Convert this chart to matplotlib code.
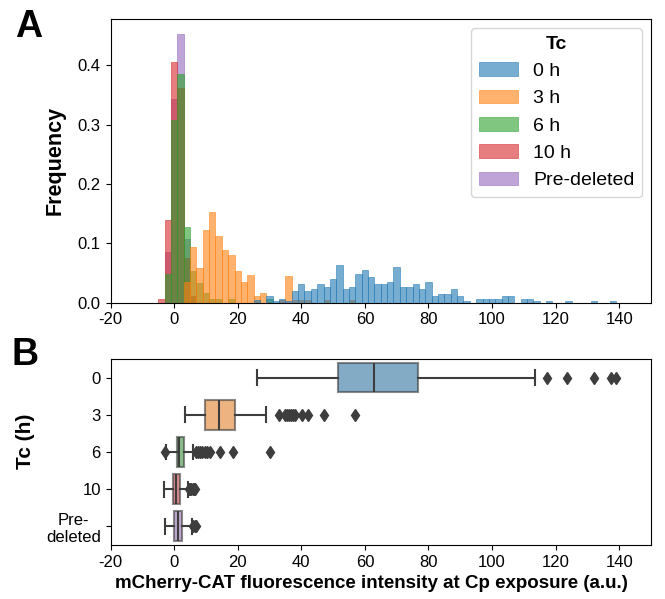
"""Panel A: layered histograms per Tc time; panel B: box plots of the same groups."""
import numpy as np
import matplotlib
matplotlib.use('Agg')
import matplotlib.pyplot as plt

plt.rcParams['font.family'] = ['Liberation Sans', 'DejaVu Sans']
plt.rcParams['font.size'] = 12
plt.rcParams['axes.unicode_minus'] = False

# Groups and colours
groups = ['0 h', '3 h', '6 h', '10 h', 'Pre-deleted']
box_labels = ['0', '3', '6', '10', 'Pre-\ndeleted']
hist_colors = ['#1f77b4', '#ff7f0e', '#2ca02c', '#d62728', '#9467bd']
box_colors = ['#3274a1', '#e1812c', '#3a923a', '#c03d3e', '#9372b2']

# Histogram: common bins of width 2, frequencies read per bin from the figure
bin_width = 2
# first bin left edge of each group, then heights of consecutive bins
start_0h = 25
freq_0h = [0.004, 0.0, 0.012, 0.0034, 0.006, 0.0034, 0.020, 0.032, 0.020, 0.0236,
           0.032, 0.027, 0.040, 0.064, 0.0236, 0.027, 0.049, 0.0555, 0.0438, 0.032,
           0.032, 0.0354, 0.0606, 0.027, 0.027, 0.032, 0.0236, 0.0354, 0.0118, 0.015,
           0.015, 0.0236, 0.0118, 0.0034, 0.0, 0.0067, 0.0067, 0.0067, 0.0067, 0.0118,
           0.0118, 0.0, 0.0067, 0.0067, 0.0034, 0.0, 0.0034, 0.0, 0.0, 0.0034,
           0.0, 0.0, 0.0, 0.0034, 0.0, 0.0, 0.0034]
start_3h = 3
freq_3h = [0.034, 0.093, 0.058, 0.123, 0.152, 0.112, 0.088, 0.081, 0.053, 0.034,
           0.046, 0.0106, 0.017, 0.0, 0.0, 0.005, 0.0455, 0.005, 0.005, 0.005,
           0.0, 0.0, 0.005, 0.0, 0.0, 0.0, 0.005]
start_6h = -3
freq_6h = [0.049, 0.308, 0.386, 0.127, 0.054, 0.0325, 0.0157, 0.0056, 0.0056, 0.0,
           0.0056, 0.0, 0.0, 0.0, 0.0, 0.0, 0.0056]
start_10h = -5
freq_10h = [0.0056, 0.139, 0.406, 0.362, 0.075, 0.0106]
start_pre = -3
freq_pre = [0.085, 0.344, 0.453, 0.107, 0.011]

hist_starts = [start_0h, start_3h, start_6h, start_10h, start_pre]
hist_freqs = [freq_0h, freq_3h, freq_6h, freq_10h, freq_pre]

# Box plot statistics
q1 = [51.4, 9.8, 0.8, -0.2, 0.0]
med = [62.9, 14.0, 1.6, 0.7, 1.1]
q3 = [76.8, 19.2, 3.1, 1.9, 2.4]
whislo = [26.1, 3.5, -2.5, -3.1, -3.0]
whishi = [113.5, 28.9, 6.0, 4.3, 5.5]
fliers = [
    [117.4, 123.5, 132.1, 137.4, 139.0],
    [33.1, 35.0, 35.6, 36.2, 36.8, 37.4, 38.0, 40.1, 42.0, 47.0, 56.9],
    [-2.9, 6.8, 7.4, 8.0, 8.8, 9.6, 10.5, 11.2, 14.4, 18.6, 30.3],
    [4.6, 5.0, 5.4, 5.8, 6.2, 6.6],
    [6.0, 6.5, 7.0],
]

xticks = np.arange(-20, 141, 20)

fig = plt.figure(figsize=(6.65, 5.99), dpi=100)
ax1 = fig.add_axes([0.1662, 0.4947, 0.8128, 0.4736])
ax2 = fig.add_axes([0.1662, 0.0902, 0.8128, 0.3105])

# Panel A: draw last group first so 0 h ends on top (seaborn layer order)
for i in reversed(range(len(groups))):
    h = np.array(hist_freqs[i])
    left = hist_starts[i] + bin_width * np.arange(len(h))
    ax1.bar(left, h, width=bin_width, align='edge', color=hist_colors[i],
            edgecolor=hist_colors[i], linewidth=0.6, alpha=0.6, label=groups[i])

handles, labels = ax1.get_legend_handles_labels()
leg = ax1.legend(handles[::-1], labels[::-1], title='Tc', loc='upper right',
                 fontsize=14, title_fontproperties={'weight': 'bold', 'size': 14},
                 edgecolor='#cccccc', handlelength=2.0, borderaxespad=0.45)
ax1.set_xlim(-20, 150)
ax1.set_ylim(0, 0.478)
ax1.set_xticks(xticks)
ax1.set_yticks(np.arange(0, 0.41, 0.1))
ax1.set_ylabel('Frequency', fontsize=15.5, fontweight='bold')
ax1.yaxis.set_label_coords(-0.083, 0.5)

# Panel B
stats = []
for i in range(len(groups)):
    stats.append({'q1': q1[i], 'med': med[i], 'q3': q3[i], 'whislo': whislo[i],
                  'whishi': whishi[i], 'fliers': fliers[i]})
bp = ax2.bxp(stats, positions=range(len(groups)), widths=0.8, orientation='horizontal',
             patch_artist=True,
             boxprops={'edgecolor': '#3d3d3d', 'linewidth': 1.5},
             whiskerprops={'color': '#3d3d3d', 'linewidth': 1.5},
             capprops={'color': '#3d3d3d', 'linewidth': 1.5},
             medianprops={'color': '#3d3d3d', 'linewidth': 1.5},
             flierprops={'marker': 'd', 'markerfacecolor': '#3d3d3d',
                         'markeredgecolor': '#3d3d3d', 'markersize': 6})
for patch, c in zip(bp['boxes'], box_colors):
    patch.set_facecolor(c)
    patch.set_alpha(0.6)

ax2.set_ylim(4.5, -0.5)
ax2.set_yticks(range(len(groups)))
ax2.set_yticklabels(box_labels, multialignment='center')
ax2.set_xlim(-20, 150)
ax2.set_xticks(xticks)
ax2.set_ylabel('Tc (h)', fontsize=15, fontweight='bold')
ax2.yaxis.set_label_coords(-0.14, 0.556)
ax2.set_xlabel('mCherry-CAT fluorescence intensity at Cp exposure (a.u.)',
               fontsize=13.5, fontweight='bold')
ax2.xaxis.set_label_coords(0.483, -0.16)

for ax in (ax1, ax2):
    ax.tick_params(labelsize=12)

fig.text(0.022, 0.985, 'A', fontsize=27, fontweight='bold', va='top')
fig.text(0.018, 0.438, 'B', fontsize=27, fontweight='bold', va='top')

fig.savefig('out.png', dpi=100)
